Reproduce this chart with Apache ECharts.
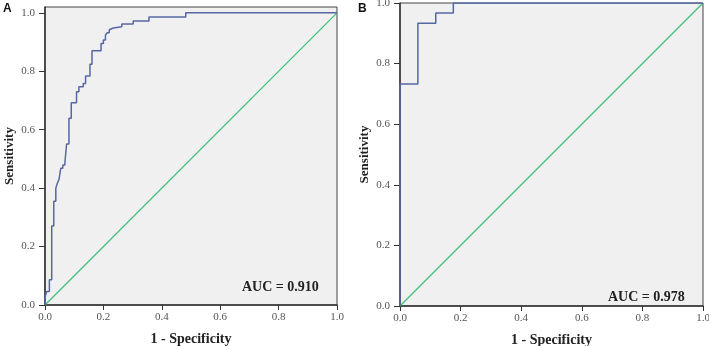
<!DOCTYPE html>
<html>
<head>
<meta charset="utf-8">
<script src="https://cdn.jsdelivr.net/npm/echarts@6/dist/echarts.min.js"></script>
<style>
  html, body { margin: 0; padding: 0; background: #fff; }
  #main { width: 709px; height: 346px; }
</style>
</head>
<body>
<div id="main"></div>
<script>
// tick values shared by both panels
const ticks = [0, 0.2, 0.4, 0.6, 0.8, 1.0]

// panel A ROC: [1 - specificity, sensitivity] at the top of each riser
const rocA = [
  [0, 0], [0, 0.028], [0.006, 0.046], [0.015, 0.086], [0.023, 0.27],
  [0.03, 0.355], [0.037, 0.40], [0.042, 0.416], [0.048, 0.43], [0.054, 0.468],
  [0.061, 0.479], [0.068, 0.486], [0.074, 0.551], [0.082, 0.639], [0.090, 0.692],
  [0.108, 0.730], [0.116, 0.747], [0.131, 0.758], [0.139, 0.784], [0.154, 0.824],
  [0.161, 0.870], [0.192, 0.895], [0.200, 0.907], [0.207, 0.924], [0.213, 0.932],
  [0.220, 0.942], [0.226, 0.948], [0.234, 0.952], [0.263, 0.962], [0.302, 0.972],
  [0.356, 0.986], [0.482, 1.0], [1.0, 1.0]
]

// panel B ROC
const rocB = [
  [0, 0], [0, 0.733], [0.059, 0.933], [0.118, 0.967], [0.176, 1.0], [1.0, 1.0]
]

// reference diagonal
const chance = [[0, 0], [1, 1]]

const aucA = '0.910'
const aucB = '0.978'

const serif = '"Liberation Serif", "DejaVu Serif", serif'

function xAxisFor (idx) {
  return {
    type: 'value', gridIndex: idx, min: 0, max: 1, interval: 0.2,
    name: '1 - Specificity', nameLocation: 'middle', nameGap: 27,
    nameTextStyle: { fontFamily: serif, fontWeight: 'bold', fontSize: 14, color: '#222' },
    axisLine: { lineStyle: { color: '#333', width: 1.5 } },
    axisTick: { show: true, length: 5, lineStyle: { color: '#333' }, customValues: ticks },
    axisLabel: { fontFamily: serif, fontSize: 11, color: '#555', margin: 7,
      customValues: ticks, formatter: v => v.toFixed(1) },
    splitLine: { show: false }
  }
}

function yAxisFor (idx, max) {
  return {
    type: 'value', gridIndex: idx, min: 0, max: max,
    name: 'Sensitivity', nameLocation: 'middle', nameGap: 29,
    nameTextStyle: { fontFamily: serif, fontWeight: 'bold', fontSize: 13, color: '#222' },
    axisLine: { lineStyle: { color: '#333', width: 1.5 } },
    axisTick: { show: true, length: 6, lineStyle: { color: '#333' }, customValues: ticks },
    axisLabel: { fontFamily: serif, fontSize: 11, color: '#555', margin: 10,
      customValues: ticks, formatter: v => v.toFixed(1) },
    splitLine: { show: false }
  }
}

const chart = echarts.init(document.getElementById('main'))

const option = {
  animation: false,
  backgroundColor: '#fff',
  grid: [
    { left: 45, top: 7, right: 372, bottom: 41, show: true, outerBoundsMode: 'none',
      containLabel: false, backgroundColor: '#f0f0f0', borderColor: '#444', borderWidth: 1 },
    { left: 400, top: 3, right: 6, bottom: 40, show: true, outerBoundsMode: 'none',
      containLabel: false, backgroundColor: '#f0f0f0', borderColor: '#444', borderWidth: 1 }
  ],
  xAxis: [xAxisFor(0), xAxisFor(1)],
  yAxis: [yAxisFor(0, 1.02), yAxisFor(1, 1)],
  series: [
    { type: 'line', xAxisIndex: 0, yAxisIndex: 0, data: chance, showSymbol: false,
      lineStyle: { color: '#3cbf7c', width: 1.3 } },
    { type: 'line', xAxisIndex: 0, yAxisIndex: 0, data: rocA, step: 'end', showSymbol: false,
      lineStyle: { color: '#5667a6', width: 1.5 } },
    { type: 'line', xAxisIndex: 1, yAxisIndex: 1, data: chance, showSymbol: false,
      lineStyle: { color: '#3cbf7c', width: 1.3 } },
    { type: 'line', xAxisIndex: 1, yAxisIndex: 1, data: rocB, step: 'end', showSymbol: false,
      lineStyle: { color: '#5667a6', width: 1.5 } }
  ],
  graphic: [
    { type: 'text', left: 3, top: 3,
      style: { text: 'A', font: 'bold 12px "Liberation Sans", Arial, sans-serif', fill: '#111' } },
    { type: 'text', left: 358, top: 3,
      style: { text: 'B', font: 'bold 12px "Liberation Sans", Arial, sans-serif', fill: '#111' } },
    { type: 'text', left: 242, top: 280,
      style: { text: 'AUC = ' + aucA, font: 'bold 14px ' + serif, fill: '#222' } },
    { type: 'text', left: 608, top: 290,
      style: { text: 'AUC = ' + aucB, font: 'bold 14px ' + serif, fill: '#222' } }
  ]
}

chart.setOption(option)
</script>
</body>
</html>
